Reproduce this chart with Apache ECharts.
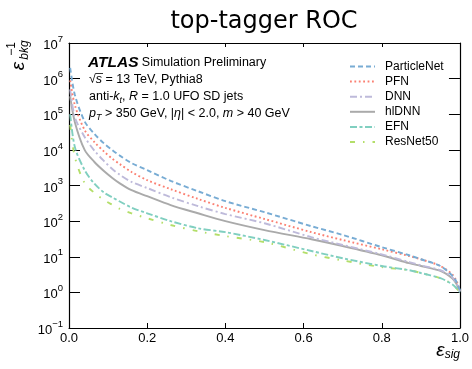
<!DOCTYPE html>
<html><head><meta charset="utf-8">
<script src="https://cdn.jsdelivr.net/npm/echarts@6/dist/echarts.min.js"></script>
<style>html,body{margin:0;padding:0;background:#fff}#c{width:472px;height:369px}</style>
</head><body><div id="c"></div>
<script>
// signal efficiency (x)
const epsSig = [0.003, 0.015, 0.04, 0.065, 0.09, 0.11, 0.13, 0.16, 0.2, 0.26, 0.33, 0.4, 0.5, 0.62, 0.7, 0.8, 0.87, 0.9, 0.95, 0.98, 0.99, 1.0];
// background rejection (1/eps_bkg)
const particleNet = [2.0e6, 3.5e5, 6.3e4, 2.8e4, 1.5e4, 1.0e4, 6900, 4270, 2700, 1350, 690, 363, 178, 72, 41, 18.6, 11, 8.5, 5.5, 3.0, 2.1, 1.15];
const pfn         = [8.9e5, 1.8e5, 3.6e4, 1.66e4, 8900, 5750, 3980, 2400, 1410, 790, 420, 235, 115, 49, 29.5, 16.2, 10.5, 8.5, 5.5, 3.2, 2.2, 1.15];
const dnn         = [5.0e5, 8.3e4, 2.3e4, 9500, 4800, 2950, 2000, 1260, 850, 470, 263, 158, 87, 35.5, 21.4, 11.7, 7.1, 5.75, 4.2, 2.7, 1.9, 1.07];
const hldnn       = [3.2e5, 6.0e4, 1.0e4, 4570, 2510, 1660, 1150, 740, 500, 282, 166, 100, 56, 31, 20, 11, 6.6, 5.5, 4.0, 2.5, 1.8, 1.07];
const efn         = [1.0e5, 1.2e4, 2700, 1120, 630, 468, 355, 240, 166, 100, 63, 49, 29.5, 14.5, 9.1, 5.5, 4.2, 3.5, 2.5, 1.7, 1.35, 1.0];
const resnet50    = [5.0e4, 6300, 1170, 620, 390, 290, 220, 166, 120, 78, 52, 38, 25.7, 11.7, 7.9, 5.1, 4.2, 3.5, 2.5, 1.7, 1.35, 1.0];
const seriesNames = ['ParticleNet', 'PFN', 'DNN', 'hlDNN', 'EFN', 'ResNet50'];
const xTickLabels = ['0.0', '0.2', '0.4', '0.6', '0.8', '1.0'];

const FONT = 'Liberation Sans';
const seriesData = [particleNet, pfn, dnn, hldnn, efn, resnet50];
const styles = [
  {color: '#78acd4', type: [5, 3]},
  {color: '#fb8072', type: [1.8, 2.6]},
  {color: '#bebada', type: [7, 3, 2, 3]},
  {color: '#aaaaaa', type: 'solid'},
  {color: '#80cfc0', type: [7, 2.5, 3, 2.5]},
  {color: '#b3de69', type: [5, 8, 1.5, 8]}
];

const chart = echarts.init(document.getElementById('c'), null, {renderer: 'canvas'});
const series = seriesNames.map((name, k) => ({
  name: name,
  type: 'line',
  data: epsSig.map((x, i) => [x, seriesData[k][i]]),
  symbol: 'none',
  showSymbol: false,
  smooth: 0.3,
  lineStyle: {color: styles[k].color, type: styles[k].type, width: 1.9},
  itemStyle: {color: styles[k].color},
  z: 10 - k
}));

const yFmt = v => {
  const e = Math.round(Math.log10(v));
  return '{b|10}{s|' + (e < 0 ? '\u2212' + (-e) : e) + '}';
};
const yRich = {
  b: {fontSize: 13, fontFamily: FONT, color: '#000', lineHeight: 18, verticalAlign: 'bottom'},
  s: {fontSize: 9.5, fontFamily: FONT, color: '#000', lineHeight: 10, verticalAlign: 'top'}
};

const baseAxisLine = {show: true, onZero: false, lineStyle: {color: '#000', width: 1.2}};

chart.setOption({
  animation: false,
  backgroundColor: '#fff',
  title: {
    text: 'top-tagger ROC', left: 259, top: 5, textAlign: 'center',
    textStyle: {fontFamily: 'DejaVu Sans', fontSize: 24, fontWeight: 'normal', color: '#000'}
  },
  grid: {left: 69, right: 12, top: 43, bottom: 41, containLabel: false},
  legend: {
    orient: 'vertical', left: 344, top: 55.5, itemWidth: 25, itemHeight: 12, itemGap: 3.1,
    data: seriesNames,
    itemStyle: {opacity: 0, borderWidth: 0},
    textStyle: {fontFamily: FONT, fontSize: 12, color: '#000', padding: [0, 0, 0, 5]}
  },
  xAxis: [
    {type: 'value', min: 0, max: 1, interval: 0.2, axisLine: baseAxisLine,
     axisTick: {inside: true, length: 5, lineStyle: {color: '#000', width: 1}},
     axisLabel: {formatter: v => xTickLabels[Math.round(v / 0.2)], fontFamily: FONT, fontSize: 13, color: '#000', margin: 4},
     splitLine: {show: false}},
    {type: 'value', position: 'top', min: 0, max: 1, interval: 0.2, axisLine: baseAxisLine,
     axisTick: {inside: true, length: 4, lineStyle: {color: '#000', width: 1}},
     axisLabel: {show: false}, splitLine: {show: false}}
  ],
  yAxis: [
    {type: 'log', logBase: 10, min: 0.1, max: 1e7, interval: 1, axisLine: baseAxisLine,
     axisTick: {inside: true, length: 11, lineStyle: {color: '#000', width: 1}},
     axisLabel: {formatter: yFmt, rich: yRich, margin: 6},
     splitLine: {show: false}, minorTick: {show: false}},
    {type: 'log', logBase: 10, min: 0.1, max: 1e7, interval: 1, position: 'right', axisLine: baseAxisLine,
     axisTick: {inside: true, length: 11, lineStyle: {color: '#000', width: 1}},
     axisLabel: {show: false}, splitLine: {show: false}}
  ],
  series: series,
  graphic: [
    {type: 'text', x: 88, y: 63, style: {
      text: '{a|ATLAS} {b|Simulation Preliminary}', verticalAlign: 'middle',
      rich: {
        a: {fontFamily: FONT, fontSize: 15.5, fontWeight: 'bold', fontStyle: 'italic', color: '#000'},
        b: {fontFamily: FONT, fontSize: 12.5, color: '#000'}
      }}},
    {type: 'text', x: 89, y: 80, style: {
      text: '{n|\u221A}{i|s}{n| = 13 TeV, Pythia8}', verticalAlign: 'middle',
      rich: {
        n: {fontFamily: FONT, fontSize: 12.5, color: '#000'},
        i: {fontFamily: FONT, fontSize: 12.5, fontStyle: 'italic', color: '#000'}
      }}},
    {type: 'line', shape: {x1: 96, y1: 73.5, x2: 103, y2: 73.5}, style: {stroke: '#000', lineWidth: 0.8}},
    {type: 'text', x: 89, y: 97, style: {
      text: '{n|anti-}{i|k}{u|t}{n|, }{i|R}{n| = 1.0 UFO SD jets}', verticalAlign: 'middle',
      rich: {
        n: {fontFamily: FONT, fontSize: 12.5, color: '#000', lineHeight: 16, verticalAlign: 'middle'},
        i: {fontFamily: FONT, fontSize: 12.5, fontStyle: 'italic', color: '#000', lineHeight: 16, verticalAlign: 'middle'},
        u: {fontFamily: FONT, fontSize: 9, fontStyle: 'italic', color: '#000', lineHeight: 9, verticalAlign: 'bottom'}
      }}},
    {type: 'text', x: 89, y: 114, style: {
      text: '{i|p}{u|T}{n| > 350 GeV, |}{i|\u03B7}{n|| < 2.0, }{i|m}{n| > 40 GeV}', verticalAlign: 'middle',
      rich: {
        n: {fontFamily: FONT, fontSize: 12.5, color: '#000', lineHeight: 16, verticalAlign: 'middle'},
        i: {fontFamily: FONT, fontSize: 12.5, fontStyle: 'italic', color: '#000', lineHeight: 16, verticalAlign: 'middle'},
        u: {fontFamily: FONT, fontSize: 9, fontStyle: 'italic', color: '#000', lineHeight: 9, verticalAlign: 'bottom'}
      }}},
    // x axis label
    {type: 'text', x: 460, y: 351, style: {
      text: '{e|\u03B5}{s|sig}', align: 'right', verticalAlign: 'middle',
      rich: {
        e: {fontFamily: FONT, fontSize: 19, fontStyle: 'italic', color: '#000', lineHeight: 20, verticalAlign: 'middle'},
        s: {fontFamily: FONT, fontSize: 12, fontStyle: 'italic', color: '#000', lineHeight: 12, verticalAlign: 'bottom'}
      }}},
    // y axis label pieces (rotated)
    {type: 'text', x: 19, y: 66, rotation: Math.PI / 2, style: {
      text: '\u03B5', align: 'center', verticalAlign: 'middle',
      fontFamily: FONT, fontSize: 19, fontStyle: 'italic', fill: '#000'}},
    {type: 'text', x: 24.5, y: 50, rotation: Math.PI / 2, style: {
      text: 'bkg', align: 'center', verticalAlign: 'middle',
      fontFamily: FONT, fontSize: 12, fontStyle: 'italic', fill: '#000'}},
    {type: 'text', x: 12, y: 49, rotation: Math.PI / 2, style: {
      text: '\u22121', align: 'center', verticalAlign: 'middle',
      fontFamily: FONT, fontSize: 12, fill: '#000'}}
  ]
});
</script></body></html>
